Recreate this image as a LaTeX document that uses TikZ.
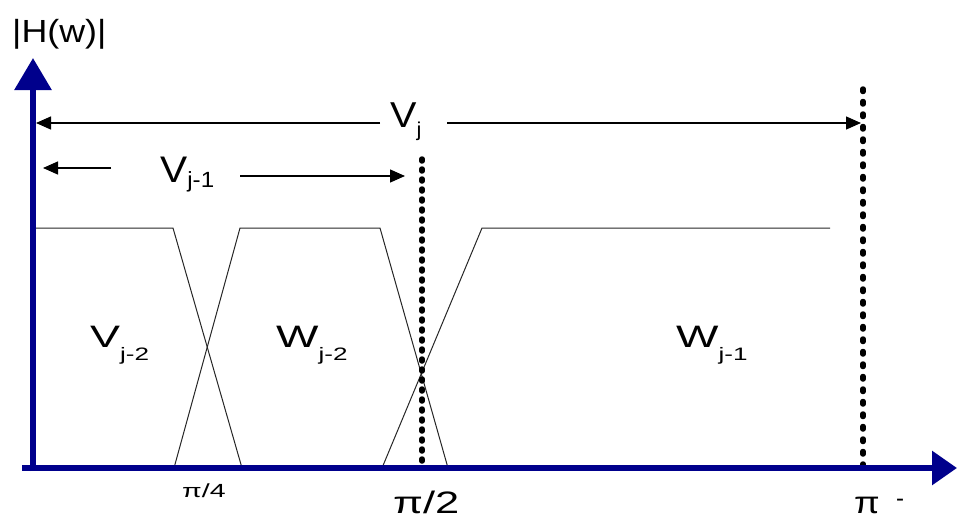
\documentclass[tikz,border=0pt]{standalone}
\usepackage{fontspec}
\setmainfont{Liberation Sans}
\usepackage{graphicx}
\usetikzlibrary{arrows.meta}
\definecolor{axisblue}{RGB}{0,0,140}
\newcommand{\fs}[1]{\fontsize{#1}{#1}\selectfont}
\begin{document}
\begin{tikzpicture}[x=1pt,y=-1pt,
  axisline/.style={draw=axisblue, line width=6pt},
  filt/.style={draw=black!85, line width=1pt, line join=miter},
  span/.style={draw=black, line width=1.3pt, -{Triangle[length=15pt,width=13pt]}},
  dotline/.style={draw=black, line width=5.5pt, line cap=round, dash pattern=on 2pt off 8pt},
  lab/.style={inner sep=0pt, anchor=base west, text=black}]
\useasboundingbox (0,0) rectangle (960,519);

% key points
\coordinate (xstart) at (22,468);
\coordinate (xend) at (957,468);
\coordinate (ybot) at (33,471);
\coordinate (ytop) at (33,58);

% filter responses
\coordinate (a0) at (36,228);
\coordinate (a1) at (173,228);
\coordinate (a2) at (242,468);
\coordinate (b0) at (174,468);
\coordinate (b1) at (240,228);
\coordinate (b2) at (380,228);
\coordinate (b3) at (448,468);
\coordinate (c0) at (382,468);
\coordinate (c1) at (482,228);
\coordinate (c2) at (830,228);
\draw[filt] (a0) -- (a1) -- (a2);
\draw[filt] (b0) -- (b1) -- (b2) -- (b3);
\draw[filt] (c0) -- (c1) -- (c2);

% dotted cut-offs
\coordinate (h0) at (422,159);
\coordinate (h1) at (422,466);
\coordinate (p0) at (863,89);
\coordinate (p1) at (863,466);
\draw[dotline] (h0) -- (h1);
\draw[dotline, dash pattern=on 2.5pt off 10pt] (p0) -- (p1);

% span arrows
\coordinate (s1a) at (380,123);
\coordinate (s1b) at (36,123);
\coordinate (s2a) at (447,123);
\coordinate (s2b) at (861,123);
\coordinate (s3a) at (111,168);
\coordinate (s3b) at (43,168);
\coordinate (s4a) at (240,176);
\coordinate (s4b) at (405,176);
\draw[span] (s1a) -- (s1b);
\draw[span] (s2a) -- (s2b);
\draw[span] (s3a) -- (s3b);
\draw[span] (s4a) -- (s4b);

% axes
\draw[axisline, -{Triangle[length=25pt,width=33pt]}] (xstart) -- (xend);
\draw[axisline, -{Triangle[length=32pt,width=36pt]}] (ybot) -- (ytop);

% labels
\node[lab] (Hw) at (12,43) {\fs{32}\scalebox{1.12}[1]{|H(w)|}};
\node[lab] (Vj) at (390,127) {\scalebox{1.1}[1]{\fs{36}V\raisebox{-9pt}{\fs{20}j}}};
\node[lab] (Vj1) at (160,182) {\scalebox{1.1}[1]{\fs{37}V\raisebox{-5pt}{\fs{22}j-1}}};
\node[lab] (Vj2) at (90,347) {\scalebox{1.45}[1]{\fs{31}V\raisebox{-13pt}{\fs{18}j-2}}};
\node[lab] (Wj2) at (276,347) {\scalebox{1.45}[1]{\fs{31}W\raisebox{-13pt}{\fs{18}j-2}}};
\node[lab] (Wj1) at (676,347) {\scalebox{1.45}[1]{\fs{31}W\raisebox{-13pt}{\fs{18}j-1}}};
\node[lab] (pi4) at (182,497) {\scalebox{1.5}[1]{\fs{19}π/4}};
\node[lab] (pi2) at (393,513) {\scalebox{1.4}[1]{\fs{31}π/2}};
\node[lab] (pi1) at (854,513) {\scalebox{1.2}[1]{\fs{31}π}};
\node[lab] (minus) at (896,506) {\fs{24}-};
\end{tikzpicture}
\end{document}
